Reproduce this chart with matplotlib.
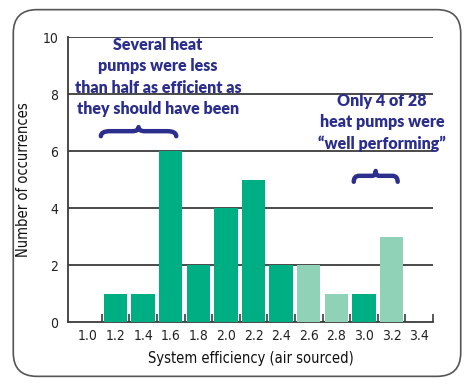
import matplotlib
matplotlib.use("Agg")
import matplotlib.pyplot as plt
from matplotlib.patches import FancyBboxPatch, PathPatch
from matplotlib.path import Path

categories = ["1.0", "1.2", "1.4", "1.6", "1.8", "2.0", "2.2", "2.4", "2.6", "2.8", "3.0", "3.2", "3.4"]
counts = [0, 1, 1, 6, 2, 4, 5, 2, 2, 1, 1, 3, 0]
well_performing = [False, False, False, False, False, False, False, False, True, True, False, True, False]
y_ticks = [0, 2, 4, 6, 8, 10]

DARK = "#00AE84"
LIGHT = "#8FD2B8"
NAVY = "#2B2E8C"
GRID = "#3c3c3c"

fig = plt.figure(figsize=(4.74, 3.86), dpi=100)
fig.patch.set_facecolor("white")

# rounded frame
frame = FancyBboxPatch((0.028, 0.025), 0.944, 0.95, boxstyle="round,pad=0,rounding_size=0.05",
                       transform=fig.transFigure, facecolor="none", edgecolor="#555555",
                       linewidth=1.2, mutation_aspect=474/386, zorder=-10)
fig.patches.append(frame)

ax = fig.add_axes([0.1435, 0.1658, 0.77, 0.7383])
ax.set_facecolor("none")
x = list(range(len(categories)))
colors = [LIGHT if w else DARK for w in well_performing]
ax.bar(x, counts, width=0.85, color=colors, zorder=3)

ax.set_xlim(-0.72, 12.5)
ax.set_ylim(0, 10)
for yv in y_ticks[1:]:
    ax.axhline(yv, color=GRID, lw=1.3, zorder=1)

for s in ["top", "right"]:
    ax.spines[s].set_visible(False)
ax.spines["left"].set_color(GRID)
ax.spines["bottom"].set_color(GRID)
ax.spines["left"].set_linewidth(1.3)
ax.spines["bottom"].set_linewidth(1.3)

tickfont = dict(family="DejaVu Sans", stretch="condensed", size=10)
ax.set_xticks(x)
ax.set_xticklabels(categories, fontdict=tickfont, color="#222222")
ax.tick_params(axis="x", length=0, pad=5)
ax.set_xticks([i + 0.5 for i in x], minor=True)
ax.tick_params(axis="x", which="minor", direction="in", length=6, width=1.2, color=GRID)
ax.set_yticks(y_ticks)
ax.set_yticklabels([str(v) for v in y_ticks], fontdict=tickfont, color="#222222")
ax.tick_params(axis="y", length=0, pad=7)

ax.set_xlabel("System efficiency (air sourced)", fontdict=dict(family="DejaVu Sans", stretch="condensed", size=10.5), color="#111111", labelpad=6)
ax.set_ylabel("Number of occurrences", fontdict=dict(family="DejaVu Sans", stretch="condensed", size=10.5), color="#111111", labelpad=8)

afont = dict(family="Lato", weight="heavy", size=11.5, color=NAVY)
ax.text(2.54, 8.6, "Several heat\npumps were less\nthan half as efficient as\nthey should have been",
        ha="center", va="center", linespacing=1.4, **afont)
ax.text(10.66, 7.0, "Only 4 of 28\nheat pumps were\n\u201cwell performing\u201d",
        ha="center", va="center", linespacing=1.4, **afont)

def brace(x0, x1, y, h):
    xm = (x0 + x1) / 2
    w = x1 - x0
    mid = y + h * 0.55
    verts = [(x0, y), (x0, mid), (x0 + w * 0.12, mid),
             (xm - w * 0.08, mid), (xm, mid), (xm, y + h),
             (xm, mid), (xm + w * 0.08, mid),
             (x1 - w * 0.12, mid), (x1, mid), (x1, y)]
    codes = [Path.MOVETO, Path.CURVE3, Path.CURVE3,
             Path.LINETO, Path.CURVE3, Path.CURVE3,
             Path.CURVE3, Path.CURVE3,
             Path.LINETO, Path.CURVE3, Path.CURVE3]
    ax.add_patch(PathPatch(Path(verts, codes), facecolor="none", edgecolor=NAVY,
                           lw=3.2, capstyle="round", joinstyle="round", zorder=5))

brace(0.47, 3.2, 6.52, 0.32)
brace(9.63, 11.22, 4.92, 0.38)

fig.savefig("out.png", dpi=100)
